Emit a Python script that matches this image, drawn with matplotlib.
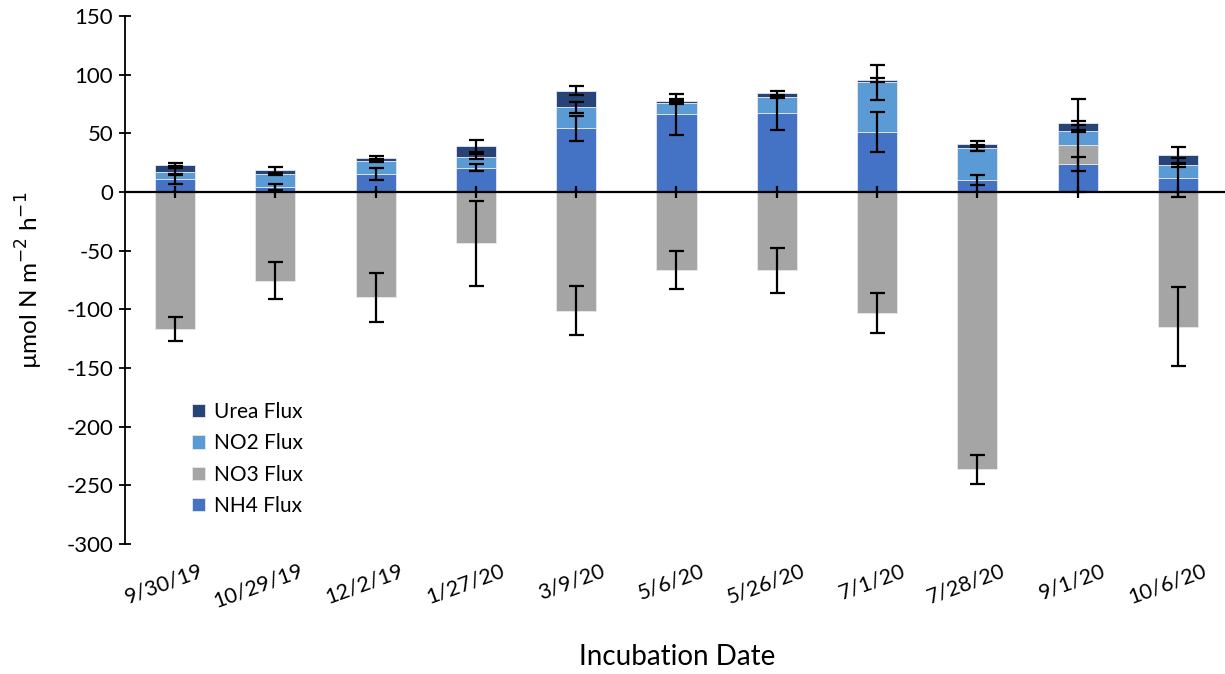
import matplotlib
matplotlib.use('Agg')
import matplotlib.pyplot as plt
import matplotlib.transforms as mtransforms
import numpy as np

plt.rcParams['font.family'] = ['Lato', 'DejaVu Sans']
plt.rcParams['axes.unicode_minus'] = False

# values (umol N m-2 h-1)
dates = ['9/30/19', '10/29/19', '12/2/19', '1/27/20', '3/9/20', '5/6/20',
         '5/26/20', '7/1/20', '7/28/20', '9/1/20', '10/6/20']
nh4 = [10.8, 4.5, 15.1, 20.7, 54.0, 66.2, 67.0, 50.9, 10.0, 23.6, 12.2]
no3 = [-116.8, -75.6, -89.8, -43.8, -101.1, -66.5, -67.0, -102.9, -236.4, 16.2, -114.8]
no2 = [6.5, 10.6, 11.6, 9.4, 18.2, 9.9, 14.2, 42.3, 27.2, 12.2, 10.5]
urea = [6.0, 3.4, 2.3, 9.1, 14.1, 1.5, 2.9, 2.5, 3.7, 6.5, 8.3]

nh4_err = [4.2, 2.5, 5.2, 3.3, 11.0, 17.5, 14.0, 17.0, 4.5, 6.0, 17.0]
no3_err = [10.0, 16.0, 21.0, 36.0, 21.0, 16.0, 19.0, 17.0, 12.5, 39.5, 34.0]
no2_err = [2.8, 1.0, 1.0, 2.0, 4.7, 1.5, 1.5, 14.5, 2.8, 1.0, 1.5]
urea_err = [1.5, 2.5, 1.5, 5.0, 3.7, 1.5, 2.0, 1.7, 2.3, 1.5, 7.5]
zero_err = [5] * len(dates)

c_urea = '#264478'
c_no2 = '#5B9BD5'
c_no3 = '#A5A5A5'
c_nh4 = '#4472C4'

x = np.arange(len(dates))
nh4 = np.array(nh4)
no3 = np.array(no3)
no2 = np.array(no2)
urea = np.array(urea)

# Excel style stacking: positives on top of each other, negatives below zero
pos_base = np.zeros(len(dates))
neg_base = np.zeros(len(dates))

fig = plt.figure(figsize=(12.25, 6.74), dpi=100)
ax = fig.add_axes([0.102, 0.193, 0.898, 0.7835])

w = 0.4
tops = {}
for name, vals, col in [('NH4 Flux', nh4, c_nh4), ('NO3 Flux', no3, c_no3),
                        ('NO2 Flux', no2, c_no2), ('Urea Flux', urea, c_urea)]:
    base = np.where(vals >= 0, pos_base, neg_base)
    ax.bar(x, vals, w, bottom=base, color=col, edgecolor='#e8e8e8',
           linewidth=0.6, label=name, zorder=2)
    tops[name] = base + vals
    pos_base = np.where(vals >= 0, pos_base + vals, pos_base)
    neg_base = np.where(vals < 0, neg_base + vals, neg_base)

ax.axhline(0, color='black', lw=1.6, zorder=3)

ekw = dict(fmt='none', ecolor='black', elinewidth=1.6, capsize=5.4,
           capthick=1.6, zorder=4)
ax.errorbar(x, np.zeros(len(dates)), yerr=zero_err, fmt='none', ecolor='black',
            elinewidth=1.6, capsize=0, zorder=4)
ax.errorbar(x, tops['NH4 Flux'], yerr=nh4_err, **ekw)
ax.errorbar(x, tops['NO3 Flux'], yerr=no3_err, **ekw)
ax.errorbar(x, tops['NO2 Flux'], yerr=no2_err, **ekw)
ax.errorbar(x, tops['Urea Flux'], yerr=urea_err, **ekw)

ax.set_xlim(-0.5, 10.47)
ax.set_ylim(-300, 150)
ax.set_yticks(np.arange(-300, 151, 50))
ax.tick_params(axis='y', direction='inout', length=9, width=1.3,
               labelsize=16, pad=4)
ax.set_xticks(x)
ax.set_xticklabels(dates, rotation=20, ha='right', rotation_mode='anchor',
                   fontsize=15.5)
ax.tick_params(axis='x', length=0, pad=12)
offset = mtransforms.ScaledTranslation(24 / 100, 0, fig.dpi_scale_trans)
for lab in ax.get_xticklabels():
    lab.set_transform(lab.get_transform() + offset)

for s in ['top', 'right', 'bottom']:
    ax.spines[s].set_visible(False)
ax.spines['left'].set_linewidth(1.3)

ax.set_xlabel('Incubation Date', fontsize=20)
ax.xaxis.set_label_coords(0.502, -0.19)
ax.set_ylabel('µmol N m$^{-2}$ h$^{-1}$', fontsize=17.5)
ax.yaxis.set_label_coords(-0.073, 0.5)

h, l = ax.get_legend_handles_labels()
order = [3, 2, 1, 0]
ax.legend([h[i] for i in order], [l[i] for i in order], loc='lower left',
          bbox_to_anchor=(0.044, 0.017), frameon=False, fontsize=15,
          handlelength=0.6, handleheight=0.6, handletextpad=0.45,
          labelspacing=0.55)

fig.savefig('out.png', dpi=100)
